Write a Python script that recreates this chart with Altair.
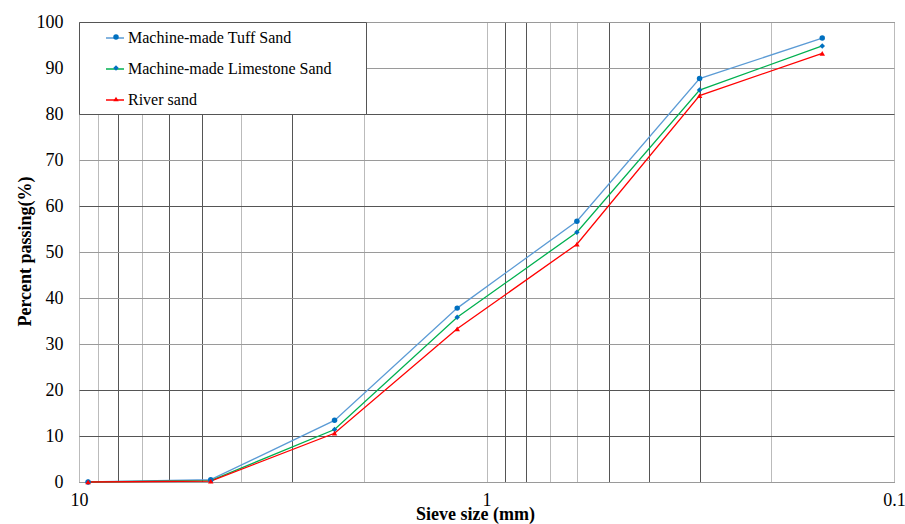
import altair as alt
import pandas as pd

# ---- data ----
sieve_sizes = [9.5, 4.75, 2.36, 1.18, 0.6, 0.3, 0.15]
series_names = ["Machine-made Tuff Sand", "Machine-made Limestone Sand", "River sand"]
tuff = [0, 0.5, 13.4, 37.8, 56.7, 87.7, 96.5]
limestone = [0, 0.3, 11.4, 35.8, 54.3, 85.2, 94.8]
river = [0, 0.2, 10.6, 33.3, 51.7, 84.0, 93.2]
x_grid_values = [10, 9, 8, 7, 6, 5, 4, 3, 2, 1, 0.9, 0.8, 0.7, 0.6, 0.5, 0.4, 0.3, 0.2, 0.1]
y_tick_values = [0, 10, 20, 30, 40, 50, 60, 70, 80, 90, 100]

rows = []
for name, vals in zip(series_names, [tuff, limestone, river]):
    for s, v in zip(sieve_sizes, vals):
        rows.append({"series": name, "size": s, "pct": v})
df = pd.DataFrame(rows)

# ---- styles ----
FONT = "Liberation Serif"
line_colors = ["#5B9BD5", "#00B050", "#FF0000"]
marker_colors = ["#0070C0", "#0070C0", "#FF0000"]
marker_shapes = ["circle", "diamond", "triangle-up"]
# invisible padding so the legend frame is as wide as in the reference
PAD_TAIL = "\u00a0" * 4 + "\u2800"

x_enc = alt.X(
    "size:Q",
    scale=alt.Scale(type="log", domain=[0.1, 10], reverse=True, nice=False),
    axis=alt.Axis(
        values=x_grid_values,
        labelExpr="datum.value == 10 ? '10' : datum.value == 1 ? '1' : datum.value == 0.1 ? '0.1' : ''",
        title="Sieve size (mm)",
        ticks=False,
        domain=False,
        gridColor={"condition": {"test": "indexof([8, 6, 5, 3, 0.9, 0.8, 0.5, 0.4, 0.3], datum.value) >= 0",
                                 "value": "#555555"},
                   "value": "#bbbbbb"},
        gridOpacity=1,
        labelFont=FONT, labelFontSize=18, labelColor="black", labelPadding=9,
        labelFlush=False, labelOverlap=False,
        titleFont=FONT, titleFontSize=18, titleFontWeight="bold", titleColor="black",
        titleX=396, titleY=32, titleBaseline="middle", titleAlign="center",
    ),
)

y_enc = alt.Y(
    "pct:Q",
    scale=alt.Scale(domain=[0, 100], nice=False),
    axis=alt.Axis(
        values=y_tick_values,
        title="Percent passing(%)",
        ticks=False,
        domain=False,
        gridColor={"condition": {"test": "indexof([80, 60, 10, 20], datum.value) >= 0",
                                 "value": "#555555"},
                   "value": "#9a9a9a"},
        gridOpacity=1,
        labelFont=FONT, labelFontSize=18, labelColor="black", labelPadding=16,
        labelFlush=False,
        titleFont=FONT, titleFontSize=18, titleFontWeight="bold", titleColor="black",
        titleX=-54, titleY=229, titleBaseline="middle", titleAlign="center", titleAngle=-90,
    ),
)

legend_lines = alt.Legend(
    orient="none", legendX=0, legendY=0, title=None,
    symbolType="stroke", symbolSize=324, symbolStrokeWidth=1.5, symbolOffset=20,
    labelOffset=3, padding=6, rowPadding=13,
    fillColor="white", strokeColor="#555555",
    labelFont=FONT, labelFontSize=16, labelColor="black", labelLimit=600,
    labelExpr="datum.label + '" + PAD_TAIL + "'",
)

legend_markers = alt.Legend(
    orient="none", legendX=0, legendY=0, title=None,
    symbolSize=30, symbolStrokeWidth=0, symbolOffset=22, symbolOpacity=1,
    labelOffset=26, padding=7, rowPadding=15,
    labelFont=FONT, labelFontSize=16, labelExpr="''",
)

lines = alt.Chart(df).mark_line(strokeWidth=1.3).encode(
    x=x_enc,
    y=y_enc,
    color=alt.Color("series:N", sort=series_names,
                    scale=alt.Scale(range=line_colors), legend=legend_lines),
)

points = alt.Chart(df).mark_point(filled=True, size=30, opacity=1).encode(
    x=x_enc,
    y=y_enc,
    fill=alt.Fill("series:N", scale=alt.Scale(domain=series_names, range=marker_colors),
                  legend=legend_markers),
    shape=alt.Shape("series:N", scale=alt.Scale(domain=series_names, range=marker_shapes),
                    legend=legend_markers),
)

chart = (
    alt.layer(lines, points)
    .properties(
        width=815, height=460,
        autosize=alt.AutoSizeParams(type="none"),
        padding={"left": 79, "top": 22, "right": 11, "bottom": 42},
        background="white",
    )
    .configure_view(stroke="#555555", strokeWidth=1)
)

chart.save("out.html", embed_options={"renderer": "svg", "actions": False})
